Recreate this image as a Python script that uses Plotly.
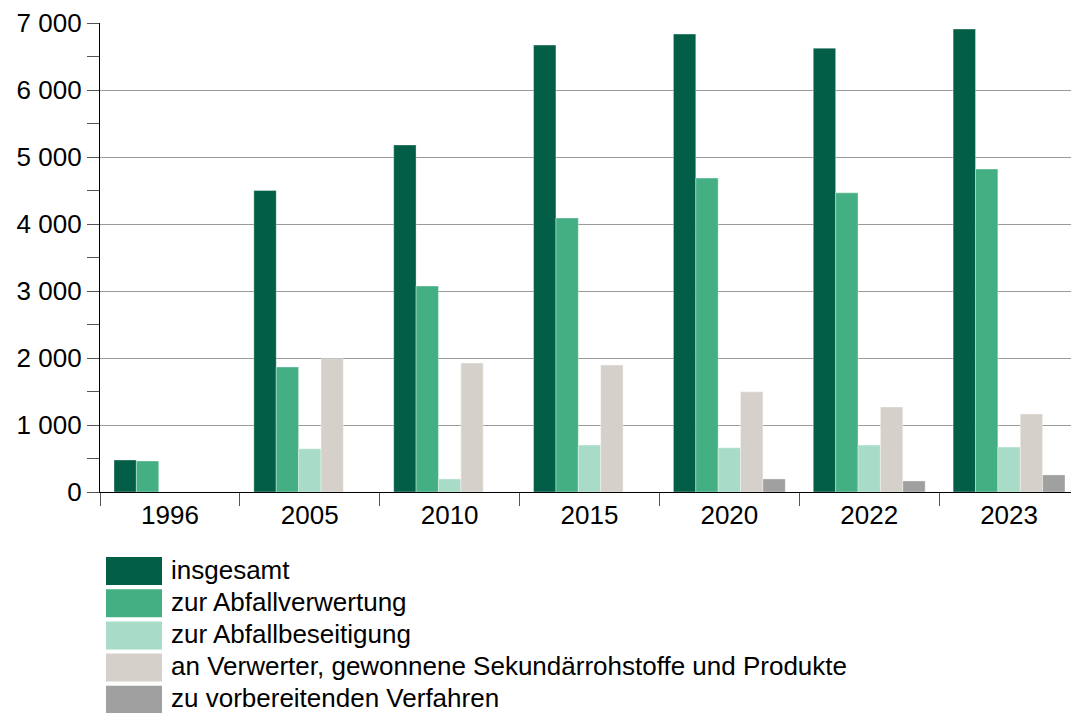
import plotly.graph_objects as go

# Jahre (Kategorien)
years = ["1996", "2005", "2010", "2015", "2020", "2022", "2023"]

# Werte je Reihe
insgesamt = [478, 4500, 5180, 6670, 6835, 6625, 6910]
abfallverwertung = [463, 1865, 3075, 4090, 4685, 4465, 4820]
abfallbeseitigung = [None, 645, 195, 700, 660, 700, 670]
an_verwerter = [None, 1990, 1925, 1895, 1495, 1270, 1165]
vorbereitend = [None, None, None, None, 195, 165, 255]

series_names = [
    "insgesamt",
    "zur Abfallverwertung",
    "zur Abfallbeseitigung",
    "an Verwerter, gewonnene Sekundärrohstoffe und Produkte",
    "zu vorbereitenden Verfahren",
]
series_values = [insgesamt, abfallverwertung, abfallbeseitigung, an_verwerter, vorbereitend]
colors = ["#035E47", "#45AF84", "#A8DCC8", "#D5D1CA", "#A0A0A0"]

FONT = "Liberation Sans, Arial, sans-serif"
FS = 26

# page body has an 8px margin -> figure sits at (8, 8)
OFF = 8
W, H = 1079 - OFF, 713 - OFF
ml, mr, mt, mb = 100 - OFF, 0, 23 - OFF, 221
pw, ph = W - ml - mr, H - mt - mb

fig = go.Figure()
for name, vals, col in zip(series_names, series_values, colors):
    fig.add_trace(go.Bar(
        x=years, y=vals, name=name,
        marker=dict(color=col, line=dict(color="rgba(255,255,255,0.6)", width=0.6)),
        showlegend=False,
    ))


# page pixel -> paper coords
def px_x(px):
    return (px - OFF - ml) / pw


def px_y(py):
    return (H - mb - (py - OFF)) / ph


# Legende als Kästchen + Text unter dem Diagramm
for i, (name, col) in enumerate(zip(series_names, colors)):
    top = 557 + i * 32.2
    fig.add_shape(type="rect", xref="paper", yref="paper",
                  x0=px_x(106), x1=px_x(162), y0=px_y(top + 28), y1=px_y(top),
                  fillcolor=col, line=dict(width=0))
    fig.add_annotation(xref="paper", yref="paper", x=px_x(170), y=px_y(top + 12.5),
                       text=name, showarrow=False, xanchor="left", yanchor="middle",
                       borderpad=0,
                       font=dict(family=FONT, size=FS, color="#000000"))

fig.update_layout(
    width=W, height=H,
    margin=dict(l=ml, r=mr, t=mt, b=mb),
    barmode="group", bargap=0.2, bargroupgap=0,
    plot_bgcolor="white", paper_bgcolor="white",
    separators=", ",
    font=dict(family=FONT, size=FS, color="#000000"),
    xaxis=dict(
        showline=True, linecolor="#000000", linewidth=1.3,
        ticks="outside", tickson="boundaries", ticklen=13, tickcolor="#555555",
        tickfont=dict(size=FS, color="#000000"), showgrid=False,
    ),
    yaxis=dict(
        range=[0, 7000], dtick=1000, tickformat=",",
        showline=True, linecolor="#000000", linewidth=1.3,
        ticks="outside", ticklen=12, tickcolor="#555555",
        showgrid=True, gridcolor="#9A9A9A", gridwidth=1,
        tickfont=dict(size=FS, color="#000000"), zeroline=False,
        minor=dict(dtick=500, ticks="outside", ticklen=12, tickcolor="#555555", showgrid=False),
    ),
)

fig.write_html("out.html")
